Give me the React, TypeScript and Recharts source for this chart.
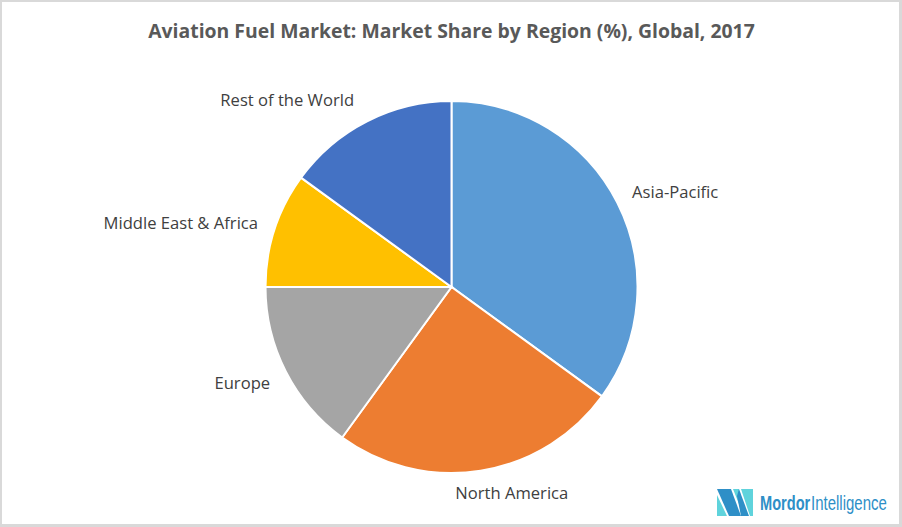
import * as React from 'react';
import { Cell, Pie, PieChart } from 'recharts';

const regions = ['Asia-Pacific', 'North America', 'Europe', 'Middle East & Africa', 'Rest of the World'];
const shares = [35, 25, 15, 10, 15];
const colors = ['#5B9BD5', '#ED7D31', '#A5A5A5', '#FFC000', '#4472C4'];

// label placement around the pie: x/y shift from the point just outside each slice
const labelShiftX = [45.5, 29, -31, -80.5, -73.5];
const labelShiftY = [-5, 8, 5, -3, -9];

const FONT = '"Open Sans", "Noto Sans", sans-serif';
const LOGO_FONT = '"Liberation Sans", sans-serif';
const RADIAN = Math.PI / 180;

const pieData = regions.map((name, i) => ({ name, value: shares[i] }));

function renderLabel(props: any) {
  const { cx, cy, midAngle, outerRadius, index } = props;
  const r = outerRadius + 14;
  const x = cx + r * Math.cos(-midAngle * RADIAN) + labelShiftX[index];
  const y = cy + r * Math.sin(-midAngle * RADIAN) + labelShiftY[index];
  return (
    <text
      x={x}
      y={y}
      textAnchor="middle"
      dominantBaseline="central"
      fontFamily={FONT}
      fontSize={16.6}
      fill="#404040"
    >
      {regions[index]}
    </text>
  );
}

function Logo() {
  return (
    <g>
      <polygon points="717,495 727,516 717,516" fill="#5fd3dc" />
      <polygon points="717,489 731,489 741,516 729,516" fill="#2e8fc7" />
      <polygon points="733,489 739,489 739,504" fill="#5fd3dc" />
      <polygon points="741,489 753,489 753,516 750,516" fill="#5fd3dc" />
      <polygon points="737,496 739,489 749,516 741,516" fill="#2e8fc7" />
      <g transform="translate(760 510) scale(0.73 1)">
        <text fontFamily={LOGO_FONT} fontSize={20} fontWeight={700} fill="#2e8fc7">
          Mordor
        </text>
      </g>
      <g transform="translate(811 510) scale(0.75 1)">
        <text fontFamily={LOGO_FONT} fontSize={20} fill="#2e8fc7">
          Intelligence
        </text>
      </g>
    </g>
  );
}

export default function App() {
  return (
    <div
      style={{
        position: 'absolute',
        left: 0,
        top: 0,
        width: 902,
        height: 527,
        background: '#fff',
        boxShadow: 'inset 2px 2px 0 #d9d9d9, inset -3px -3px 0 #d9d9d9',
      }}
    >
      <PieChart width={902} height={527} margin={{ top: 0, right: 0, bottom: 0, left: 0 }}>
        <text
          x={451.5}
          y={38}
          textAnchor="middle"
          fontFamily={FONT}
          fontSize={19.4}
          fontWeight={700}
          fill="#595959"
        >
          Aviation Fuel Market: Market Share by Region (%), Global, 2017
        </text>
        <Pie
          data={pieData}
          dataKey="value"
          nameKey="name"
          cx={451.5}
          cy={287}
          outerRadius={186}
          startAngle={90}
          endAngle={-270}
          stroke="#fff"
          strokeWidth={2}
          label={renderLabel}
          labelLine={false}
          isAnimationActive={false}
        >
          {pieData.map((d, i) => (
            <Cell key={d.name} fill={colors[i]} />
          ))}
        </Pie>
        <Logo />
      </PieChart>
    </div>
  );
}
